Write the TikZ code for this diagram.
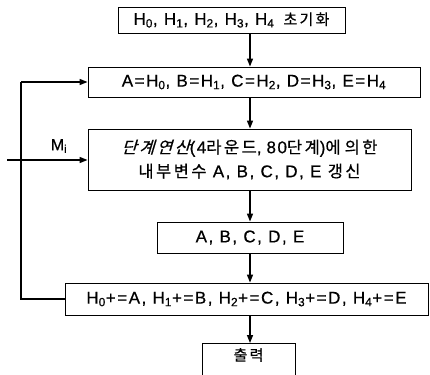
\documentclass[tikz,border=0pt]{standalone}
\usepackage{fontspec}
\setmainfont[LetterSpace=9,FakeBold=0.6]{Liberation Sans}
\newfontfamily\kr[LetterSpace=15,FakeBold=0.6]{Noto Sans CJK KR}
\newfontfamily\krsl[LetterSpace=15,FakeBold=0.6,FakeSlant=0.3]{Noto Sans CJK KR}
\newcommand{\K}[1]{{\kr\fontsize{15}{18}\selectfont #1}}
\newcommand{\KB}[1]{{\kr\fontsize{16.5}{18}\selectfont #1}}
\newcommand{\KS}[1]{{\krsl\fontsize{16.5}{18}\selectfont #1}}
\usetikzlibrary{arrows.meta}
\begin{document}
\begin{tikzpicture}[x=1pt,y=-1pt,
  box/.style={draw, line width=0.9pt, inner sep=0pt, font=\fontsize{17}{24}\selectfont},
  arr/.style={line width=1.4pt, -{Triangle[length=8pt,width=6pt]}},
  fb/.style={line width=2pt}]
\useasboundingbox (0,0) rectangle (430,374);
\coordinate (ax) at (250,0);
\coordinate (lx) at (21,0);
\node[box, minimum width=227pt, minimum height=26pt] (b1) at (231.5,20) {H\textsubscript{0}, H\textsubscript{1}, H\textsubscript{2}, H\textsubscript{3}, H\textsubscript{4}\, \K{초기화}};
\node[box, minimum width=332pt, minimum height=30pt] (b2) at (254,82) {A=H\textsubscript{0}, B=H\textsubscript{1}, C=H\textsubscript{2}, D=H\textsubscript{3}, E=H\textsubscript{4}};
\node[box, minimum width=323pt, minimum height=61pt, align=center] (b3) at (249.5,159.5) {\KS{단계연산}(4\KB{라운드},\hspace{5pt}80\KB{단계})\KB{에}\hspace{4pt}\KB{의한}\\\KB{내부변수} A, B, C, D, E \KB{갱신}};
\node[box, minimum width=186pt, minimum height=31pt] (b4) at (250,237.5) {A, B, C, D, E};
\node[box, minimum width=363pt, minimum height=32pt] (b5) at (246.5,299) {H\textsubscript{0}+=A, H\textsubscript{1}+=B, H\textsubscript{2}+=C, H\textsubscript{3}+=D, H\textsubscript{4}+=E};
\node[inner sep=0pt] (b6) at (248.5,355) {\K{출력}};
\draw[line width=0.9pt] (202,385) -- (202,343) -- (295,343) -- (295,385);
\draw[arr] (b1.south -| ax) -- (b2.north -| ax);
\draw[arr] (b2.south -| ax) -- (b3.north -| ax);
\draw[arr] (b3.south -| ax) -- (b4.north -| ax);
\draw[arr] (b4.south -| ax) -- (b5.north -| ax);
\draw[arr] (b5.south -| ax) -- (250,343);
\draw[fb] (b5.west) -- (b5.west -| lx) -- (b2.west -| lx);
\draw[arr] (b2.west -| lx) -- (b2.west);
\coordinate (min) at (7,160);
\draw[arr] (min) -- (min -| b3.west);
\node[font=\fontsize{16}{18}\selectfont, inner sep=0pt] (mi) at (59,146) {M\textsubscript{i}};
\end{tikzpicture}
\end{document}
